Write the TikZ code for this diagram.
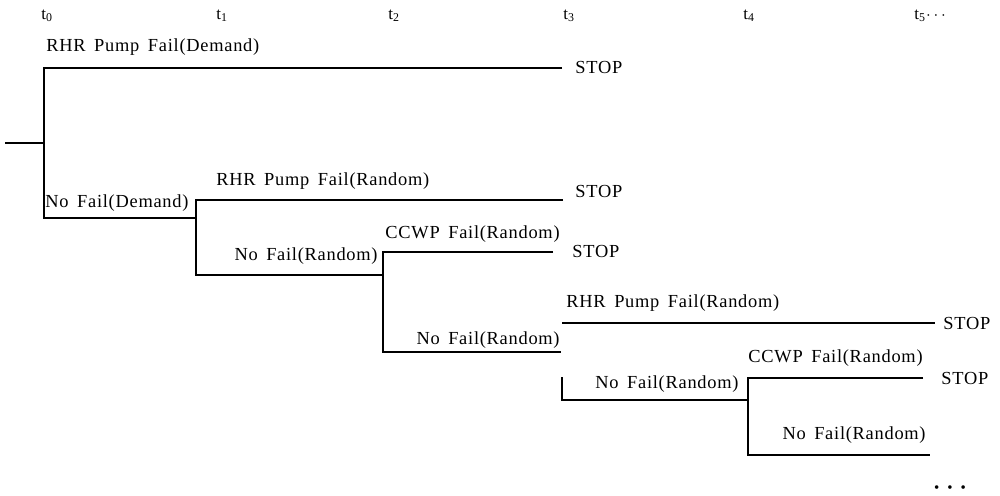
\documentclass[tikz,border=0pt]{standalone}
\usepackage{fontspec}
\setmainfont{Liberation Serif}[LetterSpace=4,WordSpace=1.6]
\usetikzlibrary{positioning}
\tikzset{
branch/.style={line width=1.45pt}, % the lines of the event tree
evt/.style={font=\fontsize{9.2}{11}\selectfont, inner sep=0pt, anchor=west}, % the event texts
stopnode/.style={evt}, % end of a sequence
tick/.style={font=\fontsize{8.5}{10}\selectfont, inner sep=0pt, anchor=west}, % the time marks
}

\begin{document}
\begin{tikzpicture}[x=0.5pt, y=-0.5pt]
    \useasboundingbox (0,0) rectangle (1000,496);
    % time marks
    \node[tick] (t0) at (41,16) {t\textsubscript{0}};
    \node[tick] (t1) at (216,16) {t\textsubscript{1}};
    \node[tick] (t2) at (388,16) {t\textsubscript{2}};
    \node[tick] (t3) at (563,16) {t\textsubscript{3}};
    \node[tick] (t4) at (743,16) {t\textsubscript{4}};
    \node[tick] (t5) at (914,16) {t\textsubscript{5}$\cdots$};

    % forks and ends
    \coordinate (in) at (5,143);
    \coordinate (f0) at (44,143);
    \coordinate (f1) at (196,218);
    \coordinate (f2) at (383,275);
    \coordinate (f3) at (561,352);
    \coordinate (f4) at (748,400);
    \coordinate (e1) at (562,68);
    \coordinate (e2) at (563,200);
    \coordinate (e3) at (553,252);
    \coordinate (s4) at (562,323);
    \coordinate (e4) at (935,323);
    \coordinate (s5) at (562,377);
    \coordinate (e5) at (923,378);
    \coordinate (e6) at (930,455);

    \draw[branch]
        (in) -- (f0)
        (e1) -| (f0) |- (f1)
        (e2) -| (f1) |- (f2)
        (e3) -| (f2) |- (f3)
        (s4) -- (e4)
        (s5) |- (f4)
        (e5) -| (f4) |- (e6);

    % events
    \node[evt] (d1) at (46,47) {RHR Pump Fail(Demand)};
    \node[evt] (n1) at (45,203) {No Fail(Demand)};
    \node[evt] (d2) at (216,181) {RHR Pump Fail(Random)};
    \node[evt, anchor=east] (n2) at (378,256) {No Fail(Random)};
    \node[evt] (d3) at (385,234) {CCWP Fail(Random)};
    \node[evt, anchor=east] (n3) at (560,340) {No Fail(Random)};
    \node[evt] (d4) at (566,303) {RHR Pump Fail(Random)};
    \node[evt] (n4) at (595,384) {No Fail(Random)};
    \node[evt] (d5) at (748,358) {CCWP Fail(Random)};
    \node[evt, anchor=east] (n5) at (926,435) {No Fail(Random)};

    \node[stopnode, right=6.5pt of e1] (stop1) {STOP};
    \node[stopnode, right=6pt of e2, yshift=4pt] (stop2) {STOP};
    \node[stopnode, right=9.5pt of e3] (stop3) {STOP};
    \node[stopnode, right=4pt of e4] (stop4) {STOP};
    \node[stopnode, right=9pt of e5] (stop5) {STOP};

    \node[font=\fontsize{7.5}{8}\selectfont, inner sep=0pt] (more) at (950,489)
        {\textbullet\hspace{4pt}\textbullet\hspace{4pt}\textbullet};
\end{tikzpicture}
\end{document}
